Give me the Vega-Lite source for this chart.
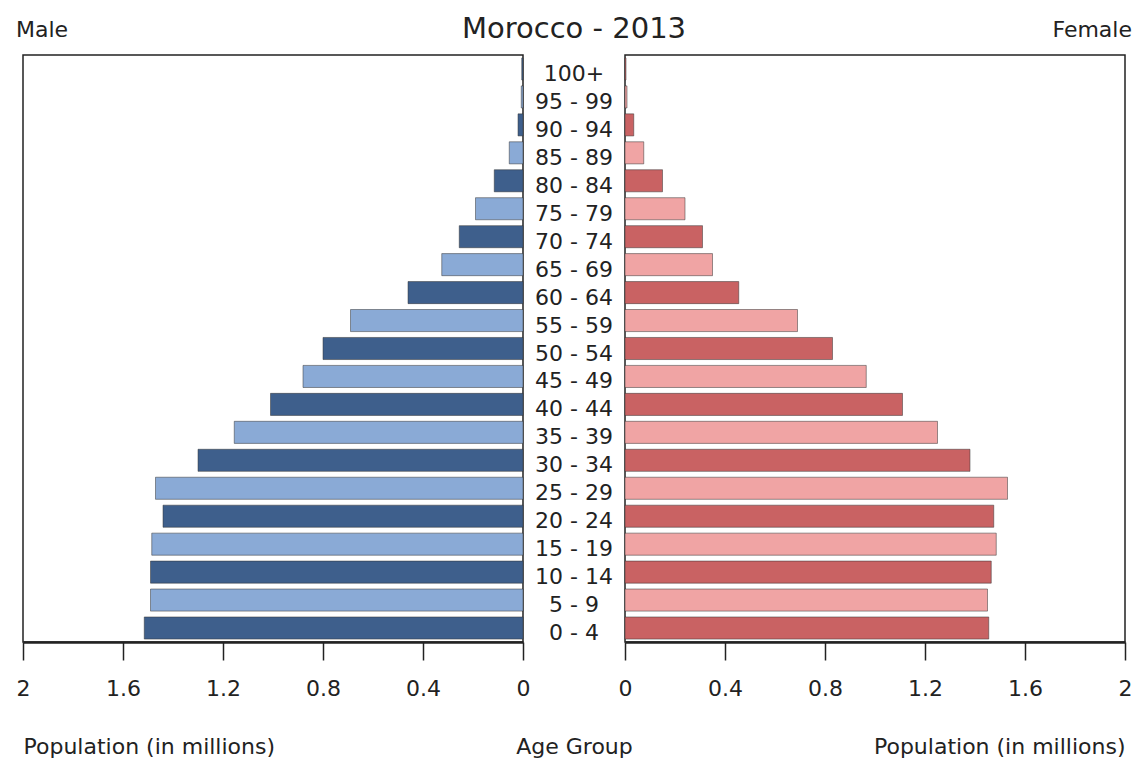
{
  "$schema": "https://vega.github.io/schema/vega-lite/v6.json",
  "background": "white",
  "padding": {"left": 15, "top": 15, "right": 10, "bottom": 0},
  "spacing": 0,
  "bounds": "flush",
  "data": {
    "values": [
      {"age": "100+", "sex": "Male", "pop": 0.005},
      {"age": "95 - 99", "sex": "Male", "pop": 0.007},
      {"age": "90 - 94", "sex": "Male", "pop": 0.02},
      {"age": "85 - 89", "sex": "Male", "pop": 0.055},
      {"age": "80 - 84", "sex": "Male", "pop": 0.115},
      {"age": "75 - 79", "sex": "Male", "pop": 0.19},
      {"age": "70 - 74", "sex": "Male", "pop": 0.255},
      {"age": "65 - 69", "sex": "Male", "pop": 0.325},
      {"age": "60 - 64", "sex": "Male", "pop": 0.46},
      {"age": "55 - 59", "sex": "Male", "pop": 0.69},
      {"age": "50 - 54", "sex": "Male", "pop": 0.8},
      {"age": "45 - 49", "sex": "Male", "pop": 0.88},
      {"age": "40 - 44", "sex": "Male", "pop": 1.01},
      {"age": "35 - 39", "sex": "Male", "pop": 1.155},
      {"age": "30 - 34", "sex": "Male", "pop": 1.3},
      {"age": "25 - 29", "sex": "Male", "pop": 1.47},
      {"age": "20 - 24", "sex": "Male", "pop": 1.44},
      {"age": "15 - 19", "sex": "Male", "pop": 1.485},
      {"age": "10 - 14", "sex": "Male", "pop": 1.49},
      {"age": "5 - 9", "sex": "Male", "pop": 1.49},
      {"age": "0 - 4", "sex": "Male", "pop": 1.515},
      {"age": "100+", "sex": "Female", "pop": 0.004},
      {"age": "95 - 99", "sex": "Female", "pop": 0.008},
      {"age": "90 - 94", "sex": "Female", "pop": 0.035},
      {"age": "85 - 89", "sex": "Female", "pop": 0.075},
      {"age": "80 - 84", "sex": "Female", "pop": 0.15},
      {"age": "75 - 79", "sex": "Female", "pop": 0.24},
      {"age": "70 - 74", "sex": "Female", "pop": 0.31},
      {"age": "65 - 69", "sex": "Female", "pop": 0.35},
      {"age": "60 - 64", "sex": "Female", "pop": 0.455},
      {"age": "55 - 59", "sex": "Female", "pop": 0.69},
      {"age": "50 - 54", "sex": "Female", "pop": 0.83},
      {"age": "45 - 49", "sex": "Female", "pop": 0.965},
      {"age": "40 - 44", "sex": "Female", "pop": 1.11},
      {"age": "35 - 39", "sex": "Female", "pop": 1.25},
      {"age": "30 - 34", "sex": "Female", "pop": 1.38},
      {"age": "25 - 29", "sex": "Female", "pop": 1.53},
      {"age": "20 - 24", "sex": "Female", "pop": 1.475},
      {"age": "15 - 19", "sex": "Female", "pop": 1.485},
      {"age": "10 - 14", "sex": "Female", "pop": 1.465},
      {"age": "5 - 9", "sex": "Female", "pop": 1.45},
      {"age": "0 - 4", "sex": "Female", "pop": 1.455}
    ]
  },
  "hconcat": [
    {
      "width": 500,
      "height": 587,
      "title": {"text": "Male", "anchor": "start", "fontSize": 22, "fontWeight": "normal", "baseline": "alphabetic", "offset": -4, "color": "#222"},
      "transform": [{"filter": "datum.sex == 'Male'"}],
      "mark": {"type": "bar", "stroke": "#333", "strokeWidth": 1, "strokeOpacity": 0.5},
      "encoding": {
        "y": {
          "field": "age",
          "type": "nominal",
          "sort": ["100+", "95 - 99", "90 - 94", "85 - 89", "80 - 84", "75 - 79", "70 - 74", "65 - 69", "60 - 64", "55 - 59", "50 - 54", "45 - 49", "40 - 44", "35 - 39", "30 - 34", "25 - 29", "20 - 24", "15 - 19", "10 - 14", "5 - 9", "0 - 4"],
          "scale": {"paddingInner": 0.21, "paddingOuter": 0.105},
          "axis": null
        },
        "x": {
          "field": "pop",
          "type": "quantitative",
          "scale": {"domain": [0, 2], "reverse": true, "nice": false},
          "axis": {"values": [0, 0.4, 0.8, 1.2, 1.6, 2], "format": "~g", "title": "Population (in millions)", "titleAnchor": "end", "titleAlign": "left"}
        },
        "color": {
          "field": "age",
          "type": "nominal",
          "scale": {
            "domain": ["100+", "95 - 99", "90 - 94", "85 - 89", "80 - 84", "75 - 79", "70 - 74", "65 - 69", "60 - 64", "55 - 59", "50 - 54", "45 - 49", "40 - 44", "35 - 39", "30 - 34", "25 - 29", "20 - 24", "15 - 19", "10 - 14", "5 - 9", "0 - 4"],
            "range": ["#3e5f8c", "#8aaad6", "#3e5f8c", "#8aaad6", "#3e5f8c", "#8aaad6", "#3e5f8c", "#8aaad6", "#3e5f8c", "#8aaad6", "#3e5f8c", "#8aaad6", "#3e5f8c", "#8aaad6", "#3e5f8c", "#8aaad6", "#3e5f8c", "#8aaad6", "#3e5f8c", "#8aaad6", "#3e5f8c"]
          },
          "legend": null
        }
      }
    },
    {
      "width": 102,
      "height": 587,
      "view": {"stroke": null},
      "title": {"text": "Morocco - 2013", "anchor": "middle", "fontSize": 29, "fontWeight": "normal", "baseline": "alphabetic", "offset": -12, "color": "#222"},
      "transform": [{"filter": "datum.sex == 'Male'"}],
      "mark": {"type": "text", "fontSize": 22, "color": "#222", "baseline": "middle", "dy": 5},
      "encoding": {
        "y": {
          "field": "age",
          "type": "nominal",
          "sort": ["100+", "95 - 99", "90 - 94", "85 - 89", "80 - 84", "75 - 79", "70 - 74", "65 - 69", "60 - 64", "55 - 59", "50 - 54", "45 - 49", "40 - 44", "35 - 39", "30 - 34", "25 - 29", "20 - 24", "15 - 19", "10 - 14", "5 - 9", "0 - 4"],
          "scale": {"paddingInner": 0.21, "paddingOuter": 0.105},
          "axis": null
        },
        "x": {
          "datum": 0.5,
          "type": "quantitative",
          "scale": {"domain": [0, 1]},
          "axis": {"title": "Age Group", "labels": false, "ticks": false, "domain": false, "titlePadding": 94}
        },
        "text": {"field": "age", "type": "nominal"}
      }
    },
    {
      "width": 500,
      "height": 587,
      "title": {"text": "Female", "anchor": "end", "fontSize": 22, "fontWeight": "normal", "baseline": "alphabetic", "offset": -4, "color": "#222"},
      "transform": [{"filter": "datum.sex == 'Female'"}],
      "mark": {"type": "bar", "stroke": "#333", "strokeWidth": 1, "strokeOpacity": 0.5},
      "encoding": {
        "y": {
          "field": "age",
          "type": "nominal",
          "sort": ["100+", "95 - 99", "90 - 94", "85 - 89", "80 - 84", "75 - 79", "70 - 74", "65 - 69", "60 - 64", "55 - 59", "50 - 54", "45 - 49", "40 - 44", "35 - 39", "30 - 34", "25 - 29", "20 - 24", "15 - 19", "10 - 14", "5 - 9", "0 - 4"],
          "scale": {"paddingInner": 0.21, "paddingOuter": 0.105},
          "axis": null
        },
        "x": {
          "field": "pop",
          "type": "quantitative",
          "scale": {"domain": [0, 2], "nice": false},
          "axis": {"values": [0, 0.4, 0.8, 1.2, 1.6, 2], "format": "~g", "title": "Population (in millions)", "titleAnchor": "end"}
        },
        "color": {
          "field": "age",
          "type": "nominal",
          "scale": {
            "domain": ["100+", "95 - 99", "90 - 94", "85 - 89", "80 - 84", "75 - 79", "70 - 74", "65 - 69", "60 - 64", "55 - 59", "50 - 54", "45 - 49", "40 - 44", "35 - 39", "30 - 34", "25 - 29", "20 - 24", "15 - 19", "10 - 14", "5 - 9", "0 - 4"],
            "range": ["#c96263", "#f0a4a4", "#c96263", "#f0a4a4", "#c96263", "#f0a4a4", "#c96263", "#f0a4a4", "#c96263", "#f0a4a4", "#c96263", "#f0a4a4", "#c96263", "#f0a4a4", "#c96263", "#f0a4a4", "#c96263", "#f0a4a4", "#c96263", "#f0a4a4", "#c96263"]
          },
          "legend": null
        }
      }
    }
  ],
  "resolve": {"scale": {"x": "independent", "y": "independent", "color": "independent"}},
  "config": {
    "font": "DejaVu Sans",
    "view": {"stroke": "#222", "strokeWidth": 1.5},
    "axis": {
      "grid": false,
      "domainColor": "#222",
      "domainWidth": 2.5,
      "tickColor": "#222",
      "tickWidth": 1.5,
      "tickSize": 18,
      "labelFontSize": 22,
      "labelColor": "#222",
      "labelPadding": 18,
      "labelFlush": false,
      "titleFontSize": 22,
      "titleFontWeight": "normal",
      "titleColor": "#222",
      "titlePadding": 37
    }
  }
}
